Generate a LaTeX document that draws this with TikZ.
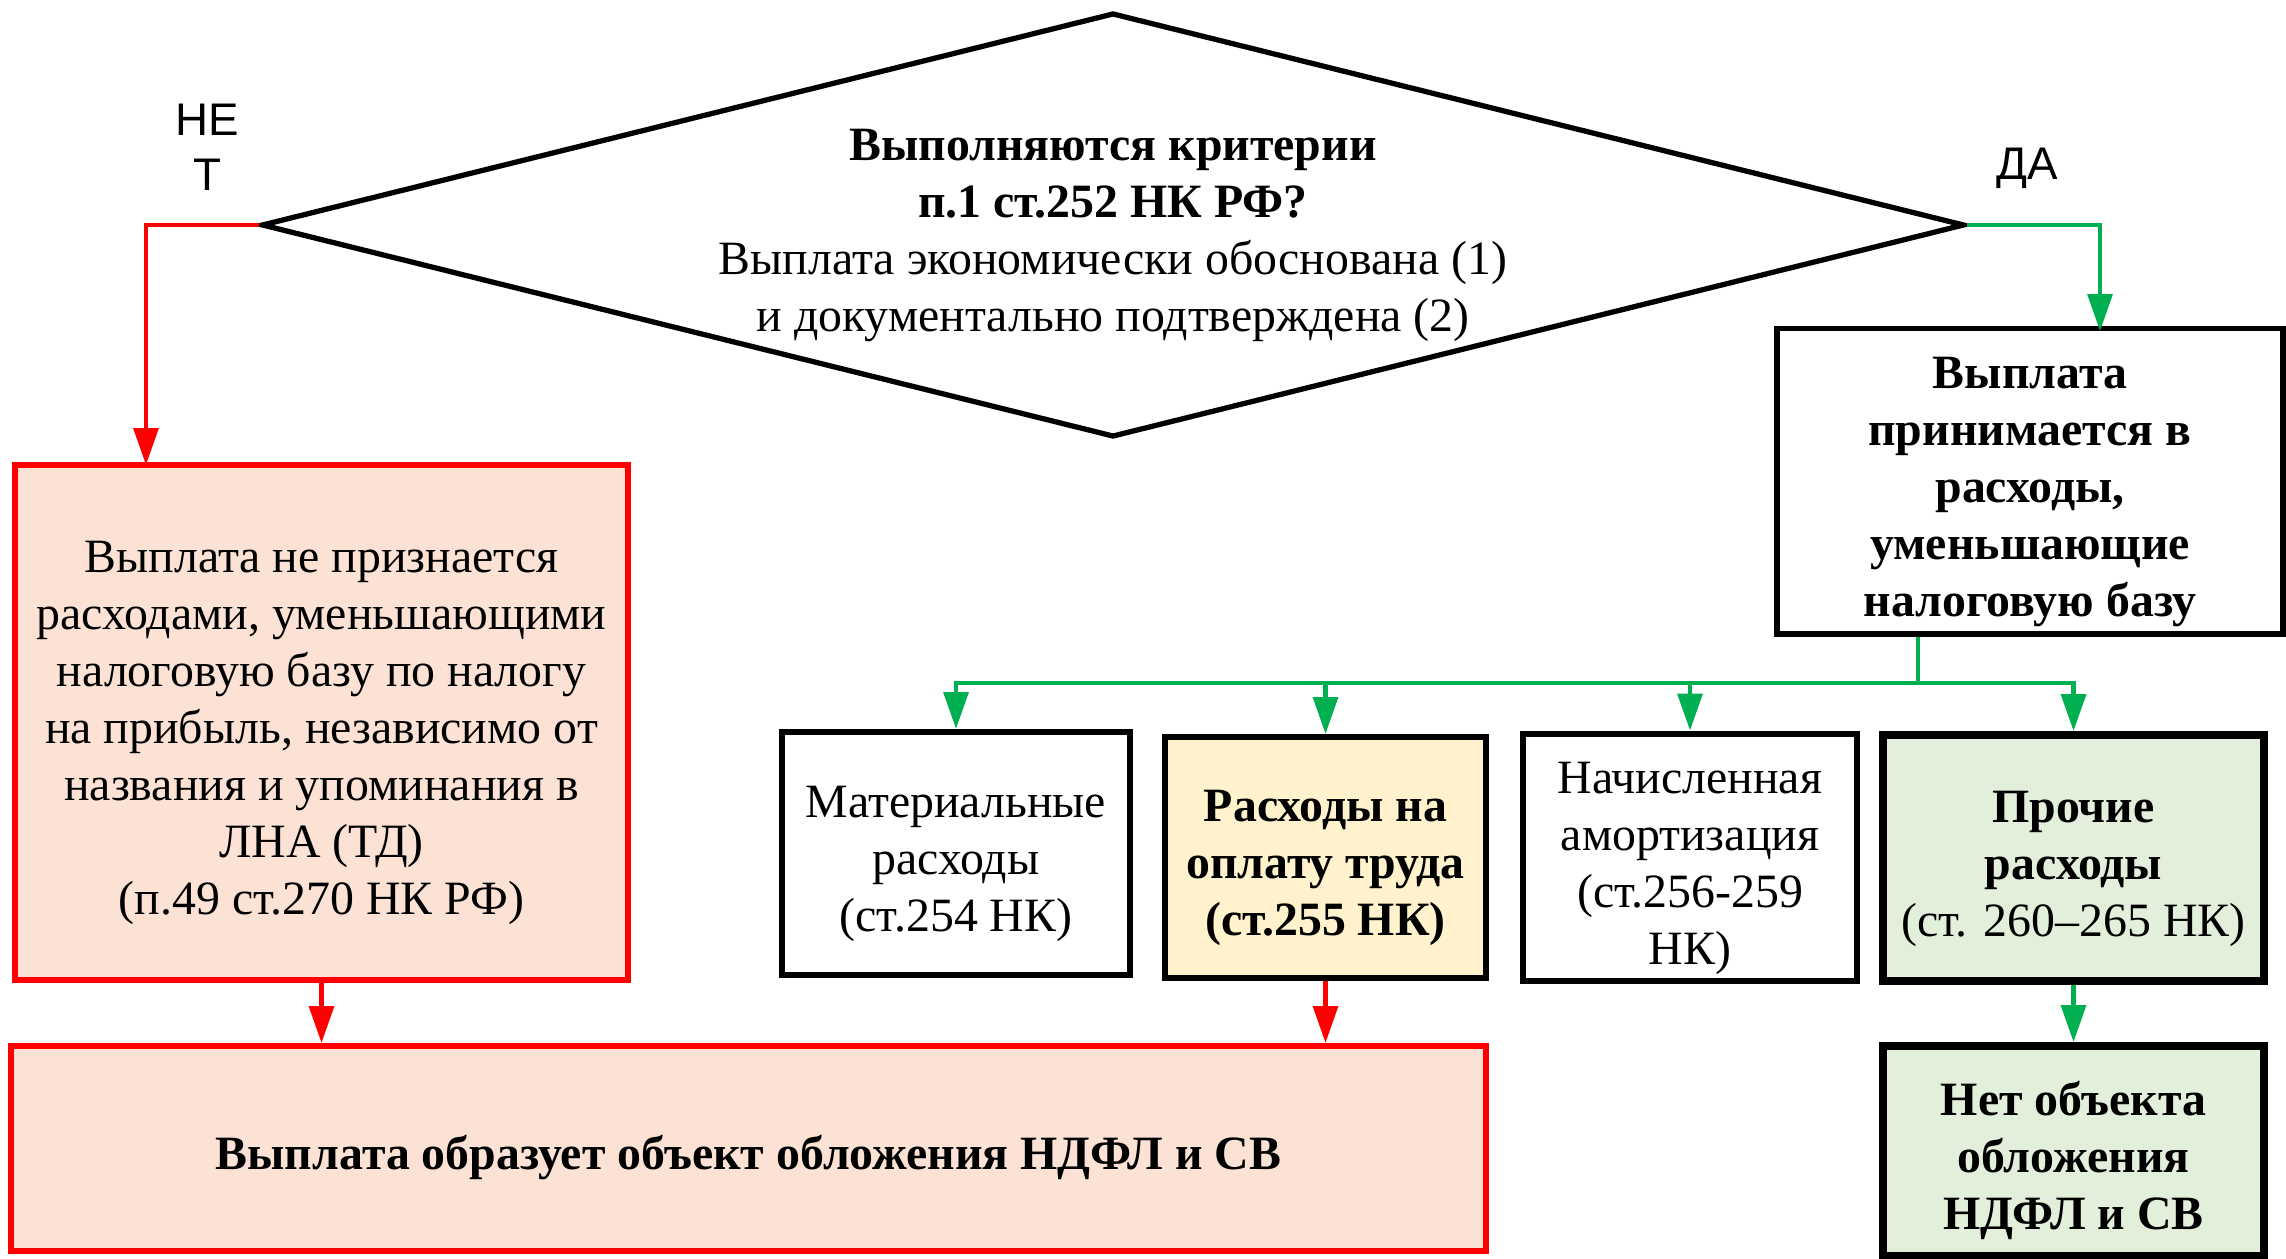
\documentclass[tikz,border=0pt]{standalone}
\usepackage{fontspec}
\setmainfont{Liberation Serif}
\newfontfamily\lblfont{Liberation Sans}
\usetikzlibrary{shapes.geometric,arrows.meta}

\definecolor{nored}{HTML}{FF0000}
\definecolor{yesgreen}{HTML}{00B050}
\definecolor{pinkfill}{HTML}{FBE2D5}
\definecolor{yellowfill}{HTML}{FFF2CC}
\definecolor{greenfill}{HTML}{E2EFDA}

% extra room above the first line, so the text sits a little lower
\newcommand{\topgap}{\rule{0pt}{15pt}}

\tikzset{
  boxtext/.style={align=center,font=\fontsize{13.6}{16.2}\selectfont},
  box/.style={boxtext,draw=black,line width=1.7pt,inner sep=2pt},
  redbox/.style={box,draw=nored,fill=pinkfill},
  greenbox/.style={box,fill=greenfill,line width=2.2pt},
  noline/.style={draw=nored,line width=1.25pt,-{Triangle[length=10.5pt,width=7pt]}},
  yesline/.style={draw=yesgreen,line width=1.25pt,-{Triangle[length=10.5pt,width=7pt]}},
  lbl/.style={font=\lblfont\fontsize{13}{15.7}\selectfont,align=center}
}

\begin{document}
\begin{tikzpicture}[x=0.01cm,y=-0.01cm]
    \useasboundingbox (0,0) rectangle (2286,1258);
    % question
    \node[diamond,draw,line width=1.5pt,aspect=4,inner sep=-5pt,minimum width=17.02cm,minimum height=4.24cm,
      boxtext] (crit) at (1113,225)
      {\topgap\textbf{Выполняются критерии}\\ \textbf{п.1 ст.252 НК РФ?}\\ Выплата экономически обоснована (1)\\ и документально подтверждена (2)};
    \node[lbl] (nolbl) at (207,147) {НЕ\\Т};
    \node[lbl] (yeslbl) at (2027,168) {ДА};
    % left branch
    \node[redbox,minimum width=6.13cm,minimum height=5.15cm] (notexp) at (321.5,722.5)
      {\topgap Выплата не признается\\ расходами, уменьшающими\\ налоговую базу по налогу\\ на прибыль, независимо от\\ названия и упоминания в\\ ЛНА (ТД)\\ (п.49 ст.270 НК РФ)};
    \node[redbox,minimum width=14.75cm,minimum height=2.05cm] (base) at (748.5,1148.5)
      {\topgap\textbf{Выплата образует объект обложения НДФЛ и СВ}};
    % right branch
    \node[box,minimum width=5.06cm,minimum height=3cm] (accept) at (2030,481)
      {\topgap\textbf{Выплата}\\ \textbf{принимается в}\\ \textbf{расходы,}\\ \textbf{уменьшающие}\\ \textbf{налоговую базу}};
    \node[box,minimum width=3.48cm,minimum height=2.43cm] (mat) at (956,853.5)
      {\topgap Материальные\\ расходы\\ (ст.254 НК)};
    \node[box,fill=yellowfill,minimum width=3.21cm,minimum height=2.41cm] (labour) at (1325.5,857.5)
      {\topgap\textbf{Расходы на}\\ \textbf{оплату труда}\\ \textbf{(ст.255 НК)}};
    \node[box,minimum width=3.34cm,minimum height=2.41cm] (amort) at (1690,857.5)
      {\topgap Начисленная\\ амортизация\\ (ст.256-259\\ НК)};
    \node[greenbox,minimum width=3.81cm,minimum height=2.46cm] (other) at (2073.5,858)
      {\topgap\textbf{Прочие}\\ \textbf{расходы}\\ (ст. 260–265 НК)};
    \node[greenbox,minimum width=3.81cm,minimum height=2.1cm] (noobj) at (2073.5,1151)
      {\topgap\textbf{Нет объекта}\\ \textbf{обложения}\\ \textbf{НДФЛ и СВ}};
    % connectors
    \coordinate (nodrop) at (146,465);
    \coordinate (yesdrop) at (2100,331);
    \coordinate (split) at (1918,683);
    \draw[noline] (crit.west) -| (nodrop);
    \draw[yesline] (crit.east) -| (yesdrop);
    \draw[draw=yesgreen,line width=1.25pt] (accept.south -| split) -- (split);
    \draw[yesline] (split) -| (mat.north);
    \draw[yesline] (split) -| (labour.north);
    \draw[yesline] (split) -| (amort.north);
    \draw[yesline] (split) -| (other.north);
    \draw[noline] (notexp.south) -- (notexp.south |- base.north);
    \draw[noline] (labour.south) -- (labour.south |- base.north);
    \draw[yesline] (other.south) -- (noobj.north);
\end{tikzpicture}
\end{document}
